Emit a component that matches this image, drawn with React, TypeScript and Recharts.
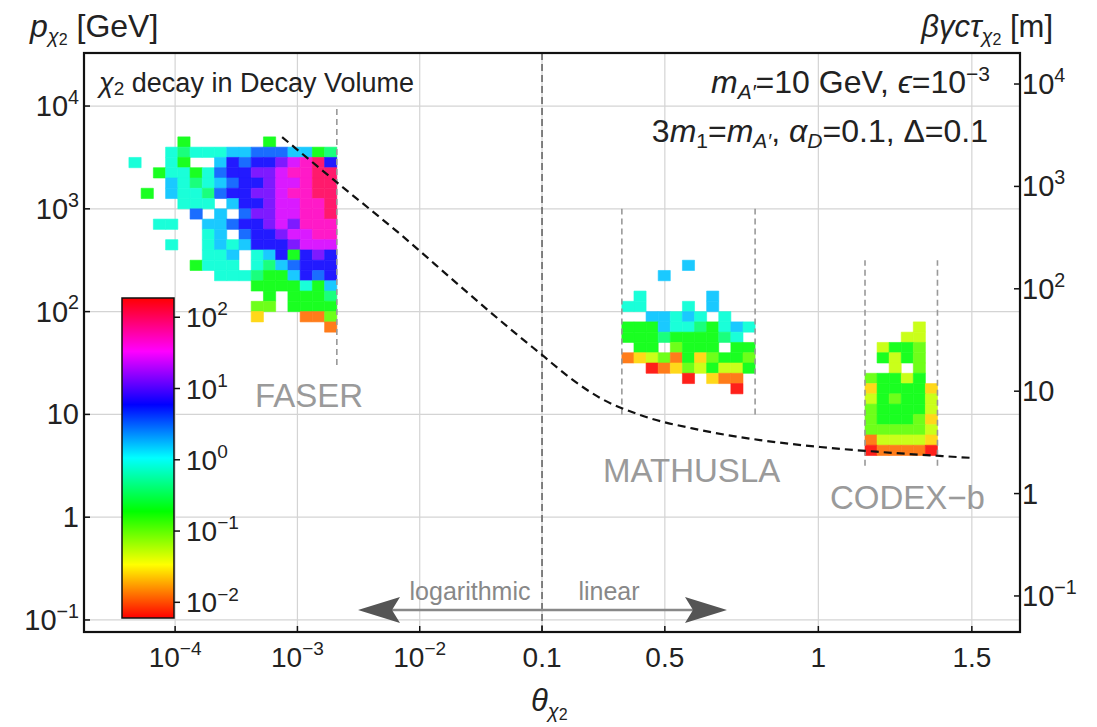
import React from 'react'
import {
  ComposedChart,
  Line,
  XAxis,
  YAxis,
  CartesianGrid,
  ReferenceArea,
  ReferenceLine,
} from 'recharts'

const FONT = "'Liberation Sans', Arial, sans-serif"

// x axis: log10(theta) up to 0.1, linear in theta above that
const LIN_FACTOR = 307 / 122.3
const toU = (theta: number) =>
  theta <= 0.1 ? Math.log10(theta) : -1 + (theta - 0.1) * LIN_FACTOR

const U_DOMAIN = [-4.745, 2.908]
const P_DOMAIN = [-1.117, 4.516] // log10 p [GeV]
const L_DOMAIN = [-1.352, 4.303] // log10 beta gamma c tau [m]

const X_TICK_THETA = [1e-4, 1e-3, 1e-2, 0.1, 0.5, 1, 1.5]
const P_TICK_EXP = [-1, 0, 1, 2, 3, 4]
const L_TICK_EXP = [-1, 0, 1, 2, 3, 4]

// decay length curve
const CURVE_THETA = [7.5e-4, 2.23e-3, 6.9e-3, 0.0214, 0.066, 0.1, 0.191, 0.289, 0.419, 0.615, 0.81, 1.006, 1.2, 1.396, 1.5]
const CURVE_LENGTH = [3030, 1033, 343, 106, 33.8, 22.6, 13.5, 8.6, 5.86, 4.18, 3.33, 2.85, 2.55, 2.33, 2.23]

// colour scale (log10 of density), hue runs red -> ... -> red
const CB_MIN = -2.22
const CB_MAX = 2.27
const CB_TICK_EXP = [-2, -1, 0, 1, 2]

// cell density codes: hex digit k -> log10 density = -2.2 + 0.3 k, '.' = empty
const DENSITY_LOG0 = -2.2
const DENSITY_STEP = 0.3

// FASER: 0.1-decade bins in theta, right edge at 2.1e-3; rows of 0.1 decade in p from 10^3.7 down
const FASER_THETA_MAX = 2.1e-3
const FASER_LOGP_TOP = 3.7
const FASER_ROWS = [
  '....5......5.....',
  '...76777889998856',
  '7..75..8a9aabcdea',
  '..577579aabbcddee',
  '...876789aabccdee',
  '.5.87769aabbcddee',
  '....777.8aabccdde',
  '.....9.8.9bbccdde',
  '..77..889aabcbddd',
  '......78.9aabccdd',
  '...7..7878aaabccc',
  '......778.78a5aba',
  '.....5777.7689aaa',
  '.......7776558a9a',
  '..........5555758',
  '...........5.5556',
  '..........44.5555',
  '..........2...114',
  '................1',
]

const MATHUSLA_THETA = [0.36, 0.794]
const MATHUSLA_LOGP_TOP = 2.5
const MATHUSLA_ROWS = [
  '.....8.....',
  '...8.......',
  '...........',
  '.7.....8...',
  '77...7.8...',
  '..88787.7..',
  '55587765787',
  '5556555567.',
  '.55.4555.55',
  '12341524554',
  '..012435335',
  '.....0.211.',
  '.........0.',
]

const CODEX_THETA = [1.152, 1.388]
const CODEX_LOGP_TOP = 1.9
const CODEX_ROWS = [
  '....3.',
  '...33.',
  '.3554.',
  '.5354.',
  '..3.4.',
  '45535.',
  '255552',
  '354553',
  '455553',
  '455542',
  '444443',
  '133332',
  '011110',
]

// detector boundaries: [theta, log10 p bottom, log10 p top]
const DETECTOR_LINES = [
  [FASER_THETA_MAX, 1.48, 4],
  [0.36, 1, 3],
  [0.794, 1, 3],
  [1.152, 0.5, 2.5],
  [1.388, 0.5, 2.5],
]

const hueOf = (logd: number) =>
  Math.max(0, Math.min(1, (logd - CB_MIN) / (CB_MAX - CB_MIN))) * 360
const colorOf = (logd: number) => `hsl(${hueOf(logd).toFixed(1)}, 100%, 55%)`

type Cell = { x1: number; x2: number; y1: number; y2: number; color: string }

function buildCells(rows: string[], edge: (c: number) => number, logpTop: number): Cell[] {
  const out: Cell[] = []
  rows.forEach((row, r) => {
    for (let c = 0; c < row.length; c++) {
      const ch = row[c]
      if (ch === '.') continue
      const k = parseInt(ch, 16)
      out.push({
        x1: edge(c),
        x2: edge(c + 1),
        y1: logpTop - 0.1 * (r + 1),
        y2: logpTop - 0.1 * r,
        color: colorOf(DENSITY_LOG0 + DENSITY_STEP * k),
      })
    }
  })
  return out
}

const faserRight = Math.log10(FASER_THETA_MAX)
const faserCols = FASER_ROWS[0].length
const linEdge = (range: number[], n: number) => (c: number) =>
  toU(range[0] + ((range[1] - range[0]) * c) / n)

const cells: Cell[] = [
  ...buildCells(FASER_ROWS, (c) => faserRight - 0.1 * (faserCols - c), FASER_LOGP_TOP),
  ...buildCells(MATHUSLA_ROWS, linEdge(MATHUSLA_THETA, MATHUSLA_ROWS[0].length), MATHUSLA_LOGP_TOP),
  ...buildCells(CODEX_ROWS, linEdge(CODEX_THETA, CODEX_ROWS[0].length), CODEX_LOGP_TOP),
]

const curveData = CURVE_THETA.map((t, i) => ({ u: toU(t), v: Math.log10(CURVE_LENGTH[i]) }))

const FS = 28

type PowerProps = { x: number; y: number; exp: number; anchor: string; fs?: number; plain?: boolean }

const PowerText = ({ x, y, exp, anchor, fs = FS, plain = true }: PowerProps) => {
  const common = { x, y, textAnchor: anchor as any, fontSize: fs, fontFamily: FONT, fill: '#222' }
  if (plain && exp === 0) return <text {...common}>1</text>
  if (plain && exp === 1) return <text {...common}>10</text>
  return (
    <text {...common}>
      10
      <tspan dy={-fs * 0.42} fontSize={fs * 0.68}>
        {exp < 0 ? `\u2212${-exp}` : `${exp}`}
      </tspan>
    </text>
  )
}

const XTick = (props: any) => {
  const { x, payload } = props
  const i = X_TICK_THETA.findIndex((t) => Math.abs(toU(t) - payload.value) < 1e-6)
  const theta = X_TICK_THETA[i]
  if (theta < 0.1) {
    return <PowerText x={x} y={667} exp={Math.round(Math.log10(theta))} anchor="middle" />
  }
  return (
    <text x={x} y={667} textAnchor="middle" fontSize={FS} fontFamily={FONT} fill="#222">
      {String(theta)}
    </text>
  )
}

const LeftTick = (props: any) => (
  <PowerText x={79} y={props.y + 10} exp={props.payload.value} anchor="end" fs={29} />
)
const RightTick = (props: any) => (
  <PowerText x={1022} y={props.y + 10} exp={props.payload.value} anchor="start" fs={29} />
)

const CB = { x: 122, y: 298, w: 52, h: 320 }
const cbY = (e: number) => CB.y + CB.h - ((e - CB_MIN) / (CB_MAX - CB_MIN)) * CB.h

const Overlay = () => (
  <svg
    width={1097}
    height={727}
    style={{ position: 'absolute', left: 0, top: 0, pointerEvents: 'none' }}
    fontFamily={FONT}
  >
    <defs>
      <linearGradient id="cbar" x1="0" y1="1" x2="0" y2="0">
        {Array.from({ length: 13 }, (_, i) => (
          <stop key={i} offset={i / 12} stopColor={`hsl(${i * 30}, 100%, 50%)`} />
        ))}
      </linearGradient>
    </defs>

    {/* frame */}
    <rect x={84} y={53} width={936} height={579} fill="none" stroke="#111" strokeWidth={2.2} />

    {/* colour bar */}
    <rect x={CB.x} y={CB.y} width={CB.w} height={CB.h} fill="url(#cbar)" stroke="#111" strokeWidth={1.5} />
    {CB_TICK_EXP.map((e) => (
      <g key={e}>
        <line x1={CB.x + CB.w} x2={CB.x + CB.w + 6} y1={cbY(e)} y2={cbY(e)} stroke="#111" strokeWidth={1.5} />
        <PowerText x={CB.x + CB.w + 12} y={cbY(e) + 10} exp={e} anchor="start" plain={false} />
      </g>
    ))}

    {/* titles */}
    <text x={30} y={37} fontSize={32} fill="#222">
      <tspan fontStyle="italic">p</tspan>
      <tspan fontSize={20} dy={6} fontStyle="italic">χ</tspan>
      <tspan fontSize={16} dy={2}>2</tspan>
      <tspan dy={-8}> [GeV]</tspan>
    </text>
    <text x={1053} y={37} fontSize={31} fill="#222" textAnchor="end">
      <tspan fontStyle="italic">βγcτ</tspan>
      <tspan fontSize={20} dy={6} fontStyle="italic">χ</tspan>
      <tspan fontSize={16} dy={2}>2</tspan>
      <tspan dy={-8}> [m]</tspan>
    </text>
    <text x={531} y={711} fontSize={31} fill="#222">
      <tspan fontStyle="italic">θ</tspan>
      <tspan fontSize={20} dy={7} fontStyle="italic">χ</tspan>
      <tspan fontSize={16} dy={2}>2</tspan>
    </text>

    <text x={99} y={92} fontSize={27} fill="#222">
      <tspan fontStyle="italic">χ</tspan>
      <tspan fontSize={19} dy={3}>2</tspan>
      <tspan dy={-3}> decay in Decay Volume</tspan>
    </text>
    <text x={990} y={93} fontSize={32} fill="#222" textAnchor="end">
      <tspan fontStyle="italic">m</tspan>
      <tspan fontSize={21} dy={6} fontStyle="italic">A′</tspan>
      <tspan dy={-6}>=10 GeV, </tspan>
      <tspan fontStyle="italic">ϵ</tspan>
      <tspan>=10</tspan>
      <tspan fontSize={21} dy={-12}>−3</tspan>
    </text>
    <text x={988} y={142} fontSize={32} fill="#222" textAnchor="end">
      <tspan>3</tspan>
      <tspan fontStyle="italic">m</tspan>
      <tspan fontSize={21} dy={6}>1</tspan>
      <tspan dy={-6}>=</tspan>
      <tspan fontStyle="italic">m</tspan>
      <tspan fontSize={21} dy={6} fontStyle="italic">A′</tspan>
      <tspan dy={-6}>, </tspan>
      <tspan fontStyle="italic">α</tspan>
      <tspan fontSize={21} dy={6} fontStyle="italic">D</tspan>
      <tspan dy={-6}>=0.1, Δ=0.1</tspan>
    </text>

    {/* detector labels */}
    <text x={255} y={407} fontSize={33} fill="#9a9a9a">FASER</text>
    <text x={603} y={482} fontSize={33} fill="#9a9a9a">MATHUSLA</text>
    <text x={830} y={509} fontSize={33} fill="#9a9a9a">CODEX−b</text>

    {/* log / linear arrow */}
    <line x1={392} x2={693} y1={610} y2={610} stroke="#888" strokeWidth={2.5} />
    <path d="M358,610 L400,597 L392,610 L400,623 Z" fill="#555" />
    <path d="M727,610 L685,597 L693,610 L685,623 Z" fill="#555" />
    <text x={470} y={600} fontSize={25} fill="#888" textAnchor="middle">logarithmic</text>
    <text x={609} y={600} fontSize={25} fill="#888" textAnchor="middle">linear</text>
  </svg>
)

const App: React.FC = () => {
  return (
    <div style={{ position: 'absolute', left: 0, top: 0, width: 1097, height: 727, background: '#fff' }}>
      <ComposedChart
        width={1097}
        height={727}
        data={curveData}
        margin={{ top: 53, right: 7, bottom: 35, left: 14 }}
      >
        <CartesianGrid yAxisId="p" stroke="#d4d4d4" strokeWidth={1.2} />
        <XAxis
          dataKey="u"
          type="number"
          domain={U_DOMAIN}
          ticks={X_TICK_THETA.map(toU)}
          interval={0}
          height={60}
          allowDataOverflow
          axisLine={false}
          tickSize={-6}
          tickLine={{ stroke: '#111', strokeWidth: 1.5 }}
          tick={XTick}
        />
        <YAxis
          yAxisId="p"
          type="number"
          domain={P_DOMAIN}
          ticks={P_TICK_EXP}
          interval={0}
          width={70}
          allowDataOverflow
          axisLine={false}
          tickSize={-6}
          tickLine={{ stroke: '#111', strokeWidth: 1.5 }}
          tick={LeftTick}
        />
        <YAxis
          yAxisId="len"
          orientation="right"
          type="number"
          domain={L_DOMAIN}
          ticks={L_TICK_EXP}
          interval={0}
          width={70}
          allowDataOverflow
          axisLine={false}
          tickSize={-6}
          tickLine={{ stroke: '#111', strokeWidth: 1.5 }}
          tick={RightTick}
        />
        {cells.map((c, i) => (
          <ReferenceArea
            key={i}
            yAxisId="p"
            x1={c.x1}
            x2={c.x2}
            y1={c.y1}
            y2={c.y2}
            fill={c.color}
            fillOpacity={1}
            stroke={c.color}
            strokeWidth={0.6}
            ifOverflow="visible"
          />
        ))}
        {DETECTOR_LINES.map(([t, lo, hi], i) => (
          <ReferenceLine
            key={`d${i}`}
            yAxisId="p"
            segment={[
              { x: toU(t), y: lo },
              { x: toU(t), y: hi },
            ]}
            stroke="#999"
            strokeWidth={1.6}
            strokeDasharray="6 4"
            ifOverflow="visible"
          />
        ))}
        <ReferenceLine yAxisId="p" x={toU(0.1)} stroke="#666" strokeWidth={1.6} strokeDasharray="7 4" />
        <Line
          yAxisId="len"
          dataKey="v"
          type="monotone"
          stroke="#111"
          strokeWidth={2.2}
          strokeDasharray="8 5"
          dot={false}
          isAnimationActive={false}
        />
      </ComposedChart>
      <Overlay />
    </div>
  )
}

export default App
